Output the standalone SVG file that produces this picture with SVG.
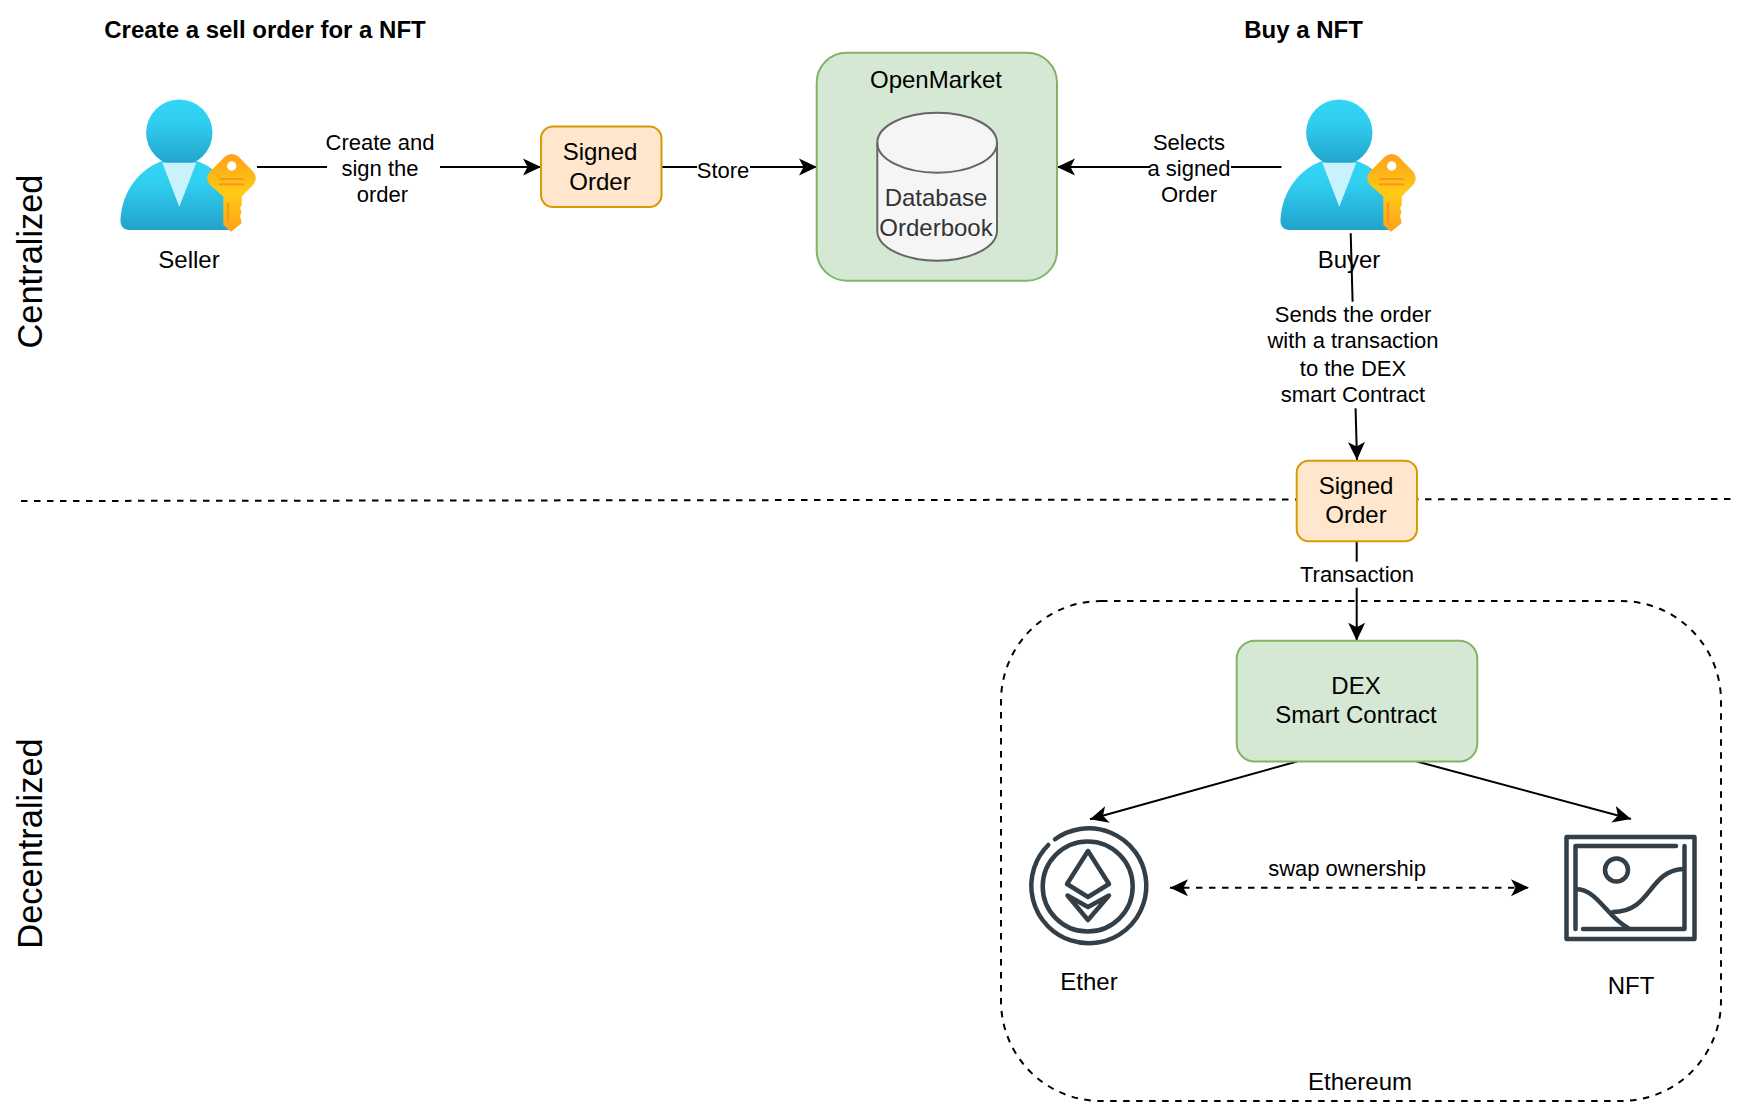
<svg xmlns="http://www.w3.org/2000/svg" width="1738" height="1102" viewBox="0 0 1738 1102">
<style>
text{font-family:"Liberation Sans",Arial,sans-serif;fill:#000;text-anchor:middle}
.n{font-size:24px}
.e{font-size:22px}
.t{font-size:24px;font-weight:bold}
.r{font-size:34.400px}
.line{fill:none;stroke:#000;stroke-width:2}
.dash{stroke-dasharray:6.500 6.500}
.order{fill:#ffe6cc;stroke:#d79b00;stroke-width:2}
.green{fill:#d5e8d4;stroke:#82b366;stroke-width:2}
.lb{fill:#fff;stroke:none}
.ic{fill:none;stroke:#333f48;stroke-width:4.500;stroke-linecap:round;stroke-linejoin:round}
</style>
<defs>
<marker id="a" markerUnits="userSpaceOnUse" markerWidth="20" markerHeight="20" viewBox="0 -10 20 20" refX="18" refY="0" orient="auto-start-reverse"><path d="M0,-8.500L18,0L0,8.500L4.500,0Z" fill="#000"/></marker>
<linearGradient id="gb" x1="0" y1="0" x2="0" y2="1"><stop offset="0" stop-color="#32d4f5"/><stop offset="0.3" stop-color="#31d0f1"/><stop offset="1" stop-color="#22a2cb"/></linearGradient>
<linearGradient id="gk" x1="0" y1="0" x2="0" y2="1"><stop offset="0" stop-color="#fea11b"/><stop offset="0.5" stop-color="#ffca14"/><stop offset="1" stop-color="#fea11b"/></linearGradient>
<g id="person">
<path d="M130,230H228Q239,230 238.500,219C237,192 220,168 194,160L165,160C139,168 122,192 120.500,219Q120,230 130,230Z" fill="url(#gb)"/>
<circle cx="179.300" cy="132.700" r="33.200" fill="url(#gb)"/>
<path d="M162.300,162.700H196.300L179.300,206.700Z" fill="#c8f3fd"/>
<path d="M225,156.500Q231.700,151.500 238.500,156.500L253.500,172Q258,178.300 253.500,184.500L241.700,196.500V205L240,208L241.700,212L240,216L241.700,223L231,231.700L223.300,225V196.500L209.500,184.500Q205,178.300 209.500,172Z" fill="url(#gk)"/>
<circle cx="231.700" cy="166" r="4.700" fill="#fff"/>
<path d="M219,179H244.300M219,184.300H244.300M228,203V223" stroke="#f99a1c" stroke-width="2.200" fill="none"/>
</g>
</defs>

<g id="dividers">
<path class="line dash" d="M21,501L1732,499"/>
</g>
<g id="ethereum">
<rect x="1001" y="601" width="720" height="500" rx="100" class="line dash"/>
<text class="n" x="1360" y="1090">Ethereum</text>
</g>

<g id="connectors">
<path class="line" d="M257,167H541" marker-end="url(#a)"/>
<path class="line" d="M662,167H817" marker-end="url(#a)"/>
<path class="line" d="M1281.500,167H1057" marker-end="url(#a)"/>
<path class="line" d="M1350.700,233.300L1357,460" marker-end="url(#a)"/>
<path class="line" d="M1356.700,541V640.700" marker-end="url(#a)"/>
<path class="line" d="M1297,761.500L1090,819.300" marker-end="url(#a)"/>
<path class="line" d="M1417,761.500L1631,819" marker-end="url(#a)"/>
<path class="line dash" d="M1170,887.700H1529" marker-start="url(#a)" marker-end="url(#a)"/>
<rect class="lb" x="327" y="125" width="113" height="80"/>
<rect class="lb" x="697" y="155" width="53" height="26"/>
<rect class="lb" x="1150" y="125" width="81" height="80"/>
<rect class="lb" x="1265" y="301.700" width="178" height="106.600"/>
<rect class="lb" x="1296" y="561.700" width="120" height="26"/>
</g>
<g id="edge-labels">
<text class="e"><tspan x="380" y="150">Create and</tspan><tspan x="380" y="176">sign the</tspan><tspan x="382.500" y="202">order</tspan></text>
<text class="e" x="723" y="178">Store</text>
<text class="e"><tspan x="1189" y="150">Selects</tspan><tspan x="1189" y="176">a signed</tspan><tspan x="1189" y="202">Order</tspan></text>
<text class="e"><tspan x="1353" y="321.700">Sends the order</tspan><tspan x="1353" y="347.700">with a transaction</tspan><tspan x="1353" y="375.700">to the DEX</tspan><tspan x="1353" y="401.700">smart Contract</tspan></text>
<text class="e" x="1357" y="581.700">Transaction</text>
<text class="e" x="1347" y="876">swap ownership</text>
</g>

<g id="title-sell"><text class="t" x="265" y="38">Create a sell order for a NFT</text></g>
<g id="title-buy"><text class="t" x="1303.500" y="38">Buy a NFT</text></g>
<g id="label-centralized"><text class="r" transform="translate(42,261.500) rotate(-90)">Centralized</text></g>
<g id="label-decentralized"><text class="r" transform="translate(42,843.500) rotate(-90)">Decentralized</text></g>

<g id="seller"><use href="#person"/><text class="n" x="189" y="268">Seller</text></g>
<g id="buyer"><use href="#person" x="1160"/><text class="n" x="1349" y="268">Buyer</text></g>

<g id="signed-order-1"><rect x="541" y="126.500" width="120.500" height="80.500" rx="12" class="order"/><text class="n"><tspan x="600" y="160">Signed</tspan><tspan x="600" y="190">Order</tspan></text></g>
<g id="openmarket"><rect x="816.700" y="52.700" width="240.300" height="228" rx="30" class="green"/><text class="n" x="936" y="88">OpenMarket</text>
<g id="database"><path d="M877.300,142.700A59.850,30 0 0 1 997,142.700V230.700A59.850,30 0 0 1 877.300,230.700Z" fill="#f5f5f5" stroke="#666" stroke-width="2"/><path d="M877.300,142.700A59.850,30 0 0 0 997,142.700" fill="none" stroke="#666" stroke-width="2"/><text class="n" style="fill:#333"><tspan x="936" y="205.700">Database</tspan><tspan x="936" y="236">Orderbook</tspan></text></g></g>
<g id="signed-order-2"><rect x="1296.700" y="460.700" width="120.300" height="80.600" rx="12" class="order"/><text class="n"><tspan x="1356" y="494">Signed</tspan><tspan x="1356" y="523">Order</tspan></text></g>
<g id="dex"><rect x="1236.700" y="640.700" width="240.600" height="120.800" rx="18" class="green"/><text class="n"><tspan x="1356" y="694">DEX</tspan><tspan x="1356" y="723">Smart Contract</tspan></text></g>

<g id="ether">
<path class="ic" d="M1055,839.300A57.500,57.500 0 1 1 1048.300,845"/>
<circle class="ic" cx="1087.700" cy="886.500" r="45"/>
<path class="ic" d="M1088,851L1109,884L1088,897L1067,884Z"/>
<path class="ic" d="M1067.500,895.500L1088,920L1109,895.500L1088,907Z"/>
<text class="n" x="1089" y="990">Ether</text>
</g>
<g id="nft">
<rect x="1566.500" y="837" width="128" height="102" fill="none" stroke="#333f48" stroke-width="4.500" stroke-linejoin="round"/>
<path class="ic" d="M1676,846H1575.500V929M1684.500,846V929H1583"/>
<circle class="ic" cx="1616.500" cy="870" r="11.500"/>
<path class="ic" d="M1576,889C1598,890 1606,916 1628,928M1613,912C1652,912 1648,870 1684,869"/>
<text class="n" x="1631" y="994">NFT</text>
</g>
</svg>
